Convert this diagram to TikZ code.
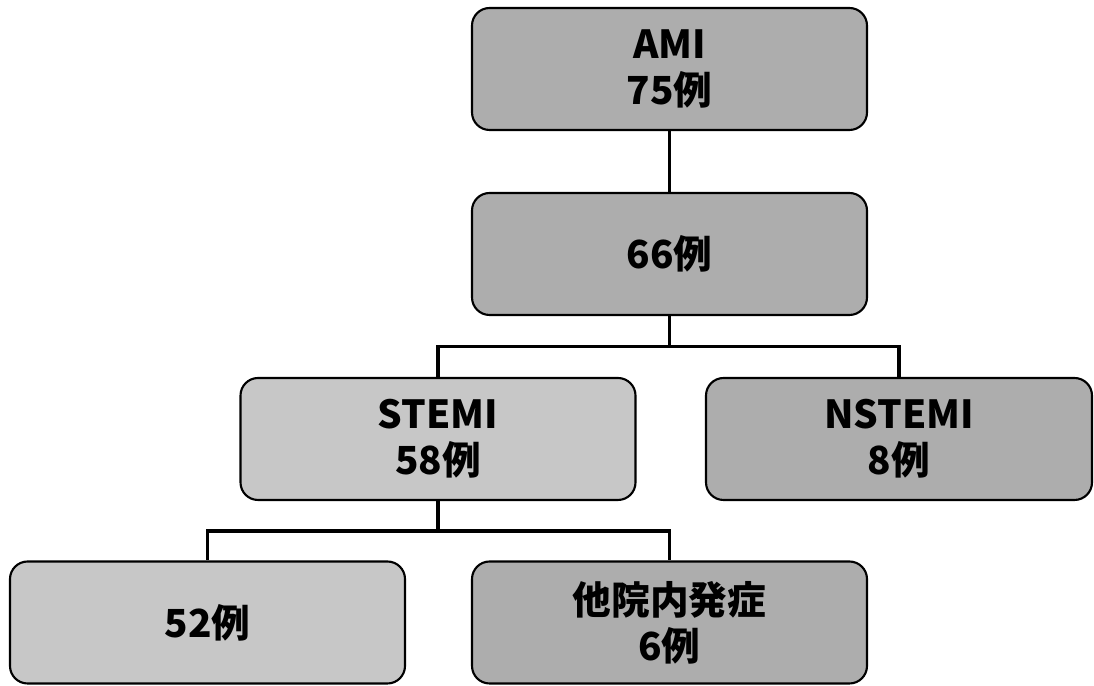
\documentclass[tikz,border=0pt]{standalone}
\usepackage{fontspec}
\newfontfamily\jpfont{Noto Sans CJK JP}
\usetikzlibrary{positioning}

\begin{document}
\begin{tikzpicture}[
  box/.style={draw,line width=1.2pt,rounded corners=10pt,minimum width=7.9cm,
    minimum height=2.44cm,align=center,
    font=\jpfont\bfseries\fontsize{22}{26}\selectfont},
  dark/.style={box,fill=black!32},
  light/.style={box,fill=black!22},
  link/.style={line width=1.8pt}]
\useasboundingbox (0,0) rectangle (21.88,13.72);
\node[dark] (ami) at (13.39,12.34) {AMI\\75例};
\node[dark] (n66) at (13.39,8.64) {66例};
\node[light] (stemi) at (8.76,4.94) {STEMI\\58例};
\node[dark,minimum width=7.72cm] (nstemi) at (17.98,4.94) {NSTEMI\\8例};
\node[light] (n52) at (4.15,1.27) {52例};
\node[dark] (other) at (13.39,1.27) {他院内発症\\6例};
\coordinate (bus1) at (13.39,6.79);
\coordinate (bus2) at (8.76,3.1);
\draw[link] (ami) -- (n66);
\draw[link] (n66) -- (bus1) -| (stemi);
\draw[link] (bus1) -| (nstemi);
\draw[link] (stemi) -- (bus2) -| (n52);
\draw[link] (bus2) -| (other);
\end{tikzpicture}
\end{document}
